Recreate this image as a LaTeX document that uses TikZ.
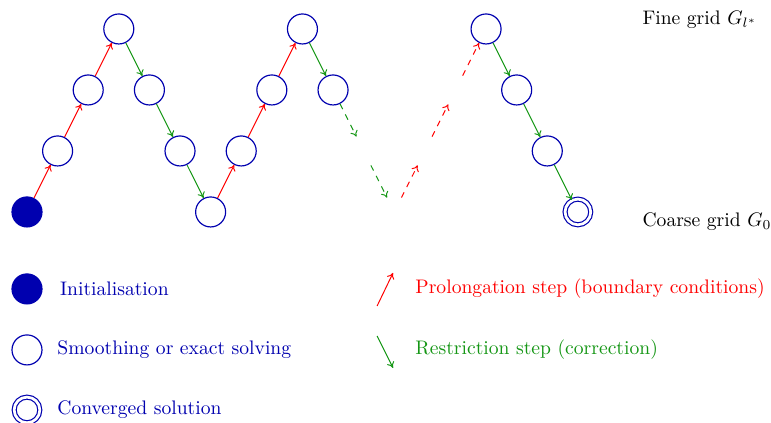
\documentclass[tikz,border=0pt]{standalone}
\usepackage{amsmath,amssymb}
\usetikzlibrary{arrows.meta}
\definecolor{cblue}{RGB}{0,0,175}
\definecolor{cgreen}{RGB}{20,150,20}
\definecolor{cred}{RGB}{255,0,0}
\tikzset{
  smoothnode/.style={circle,draw=cblue,line width=0.6pt,minimum size=15.3pt,inner sep=0pt},
  init/.style={smoothnode,fill=cblue},
  conv/.style={circle,draw=cblue,line width=0.6pt,double,double distance=1.4pt,minimum size=13.1pt,inner sep=0pt},
  prol/.style={-{To[length=3pt,width=4pt]},cred,line width=0.5pt},
  restr/.style={-{To[length=3pt,width=4pt]},cgreen,line width=0.5pt},
  legtext/.style={anchor=west,inner sep=0pt}
}
\begin{document}
\begin{tikzpicture}[x=15.61pt,y=31.11pt]
\useasboundingbox (-0.882,-3.459) rectangle (24.31,3.475);
% V-cycles
\path
  node[init] (n0) at (0,0) {}
  node[smoothnode] (n1) at (1,1) {}
  node[smoothnode] (n2) at (2,2) {}
  node[smoothnode] (n3) at (3,3) {}
  node[smoothnode] (n4) at (4,2) {}
  node[smoothnode] (n5) at (5,1) {}
  node[smoothnode] (n6) at (6,0) {}
  node[smoothnode] (n7) at (7,1) {}
  node[smoothnode] (n8) at (8,2) {}
  node[smoothnode] (n9) at (9,3) {}
  node[smoothnode] (n10) at (10,2) {}
  coordinate (v1) at (11,1)
  coordinate (v2) at (12,0)
  coordinate (v3) at (13,1)
  coordinate (v4) at (14,2)
  node[smoothnode] (n15) at (15,3) {}
  node[smoothnode] (n16) at (16,2) {}
  node[smoothnode] (n17) at (17,1) {}
  node[conv] (n18) at (18,0) {}
  ;
\draw[prol] (n0) -- (n1);
\draw[prol] (n1) -- (n2);
\draw[prol] (n2) -- (n3);
\draw[restr] (n3) -- (n4);
\draw[restr] (n4) -- (n5);
\draw[restr] (n5) -- (n6);
\draw[prol] (n6) -- (n7);
\draw[prol] (n7) -- (n8);
\draw[prol] (n8) -- (n9);
\draw[restr] (n9) -- (n10);
\draw[restr,dashed,shorten >=8.2pt] (n10) -- (v1);
\draw[restr,dashed,shorten <=8.2pt,shorten >=8.2pt] (v1) -- (v2);
\draw[prol,dashed,shorten <=8.2pt,shorten >=8.2pt] (v2) -- (v3);
\draw[prol,dashed,shorten <=8.2pt,shorten >=8.2pt] (v3) -- (v4);
\draw[prol,dashed,shorten <=8.2pt] (v4) -- (n15);
\draw[restr] (n15) -- (n16);
\draw[restr] (n16) -- (n17);
\draw[restr] (n17) -- (n18);
% grid labels
\node[anchor=base west,inner sep=0pt] (fine) at (20.1,3.066) {Fine grid $G_{l^*}$};
\node[anchor=base west,inner sep=0pt] (coarse) at (20.1,-0.246) {Coarse grid $G_0$};
% legend
\node[init] (l1) at (0,-1.262) {};
\node[smoothnode] (l2) at (0,-2.262) {};
\node[conv] (l3) at (0,-3.246) {};
\node[legtext,cblue] (t1) at (1.07,-1.262) {Initialisation};
\node[legtext,cblue] (t2) at (0.98,-2.262) {Smoothing or exact solving};
\node[legtext,cblue] (t3) at (0.98,-3.246) {Converged solution};
\path
  coordinate (pa) at (11.44,-1.541)
  coordinate (pb) at (11.96,-1.0)
  coordinate (ra) at (11.44,-2.033)
  coordinate (rb) at (11.96,-2.557);
\draw[prol] (pa) -- (pb);
\draw[restr] (ra) -- (rb);
\node[legtext,cred] (t4) at (12.68,-1.262) {Prolongation step (boundary conditions)};
\node[legtext,cgreen] (t5) at (12.68,-2.262) {Restriction step (correction)};
\end{tikzpicture}
\end{document}
